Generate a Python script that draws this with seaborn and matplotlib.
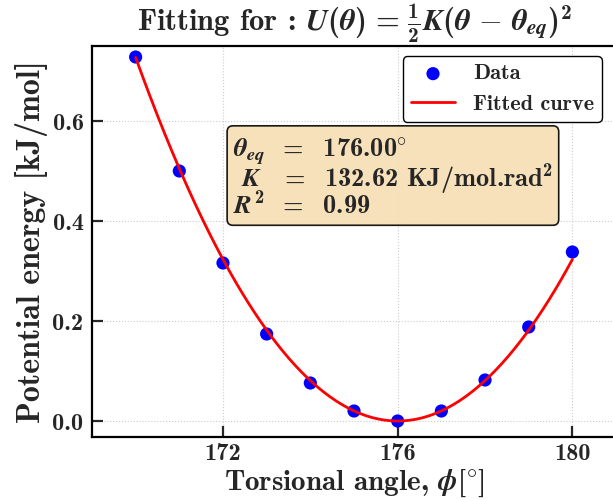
import numpy as np
import pandas as pd
import seaborn as sns
import matplotlib.pyplot as plt

# torsion scan data
angles = [170, 171, 172, 173, 174, 175, 176, 177, 178, 179, 180]
energies = [0.728, 0.500, 0.316, 0.174, 0.076, 0.020, 0.000, 0.020, 0.082, 0.188, 0.338]

# fit parameters shown on the chart
theta_eq = 176.00
k_fit = 132.62
r2 = 0.99

sns.set_style("ticks")
plt.rcParams['font.family'] = ['cmb10', 'DejaVu Serif']
plt.rcParams['mathtext.fontset'] = 'custom'
plt.rcParams['mathtext.rm'] = 'cmb10'
plt.rcParams['mathtext.it'] = 'STIXGeneral:italic:bold'
plt.rcParams['mathtext.bf'] = 'cmb10'
plt.rcParams['axes.unicode_minus'] = False

df = pd.DataFrame({'angle': angles, 'energy': energies})

# fitted harmonic curve from the fit parameters
theta_fine = np.linspace(min(angles), max(angles), 300)
u_fine = 0.5 * k_fit * np.deg2rad(theta_fine - theta_eq) ** 2
fit_df = pd.DataFrame({'angle': theta_fine, 'energy': u_fine})

fig = plt.figure(figsize=(6.13, 5.0), dpi=100)
ax = fig.add_axes([0.150, 0.126, 0.855, 0.782])

sns.scatterplot(data=df, x='angle', y='energy', ax=ax, color='blue', s=90,
                edgecolor='none', label='Data', zorder=2)
sns.lineplot(data=fit_df, x='angle', y='energy', ax=ax, color='red', lw=2,
             label='Fitted curve', zorder=3)

ax.set_xlim(169, 181)
ax.set_ylim(-0.032, 0.75)
ax.set_xticks([172, 176, 180])
ax.set_yticks([0.0, 0.2, 0.4, 0.6])
ax.set_yticklabels(['0.0', '0.2', '0.4', '0.6'])
ax.tick_params(direction='in', length=8, width=1.6, labelsize=17.5)
ax.tick_params(axis='x', pad=4)
ax.tick_params(axis='y', pad=6)
ax.grid(True, color='#cccccc', ls=':', lw=0.8)
for s in ax.spines.values():
    s.set_linewidth(1.6)
    s.set_color('black')

ax.set_xlabel(r'Torsional angle, $\phi[^{\circ}]$', fontsize=21, labelpad=2)
ax.set_ylabel('Potential energy [kJ/mol]', fontsize=23, labelpad=3)
ax.set_title(r'Fitting for : $U(\theta)\,=\,\frac{1}{2}K(\theta\,-\,\theta_{eq})^2$',
             fontsize=22, pad=4)

leg = ax.legend(loc='upper right', fontsize=16, frameon=True, fancybox=True,
                edgecolor='black', framealpha=1, borderpad=0.35,
                handletextpad=0.8, borderaxespad=0,
                bbox_to_anchor=(0.973, 0.974))
leg.get_frame().set_linewidth(1.0)

box_txt = (r'$\theta_{eq}\ \ =\ $ %.2f$^{\circ}$' % theta_eq + '\n'
           + r' $K\ \ \ =\ $ %.2f KJ/mol.rad$^{2}$' % k_fit + '\n'
           + r'$R^{2}\ \ =\ $ %.2f' % r2)
ax.text(0.269, 0.768, box_txt, transform=ax.transAxes, fontsize=19,
        va='top', ha='left', linespacing=0.78,
        bbox=dict(boxstyle='round,pad=0.22', facecolor='wheat', edgecolor='black',
                  alpha=0.9, lw=1.2))

plt.savefig('out.png', dpi=100)
